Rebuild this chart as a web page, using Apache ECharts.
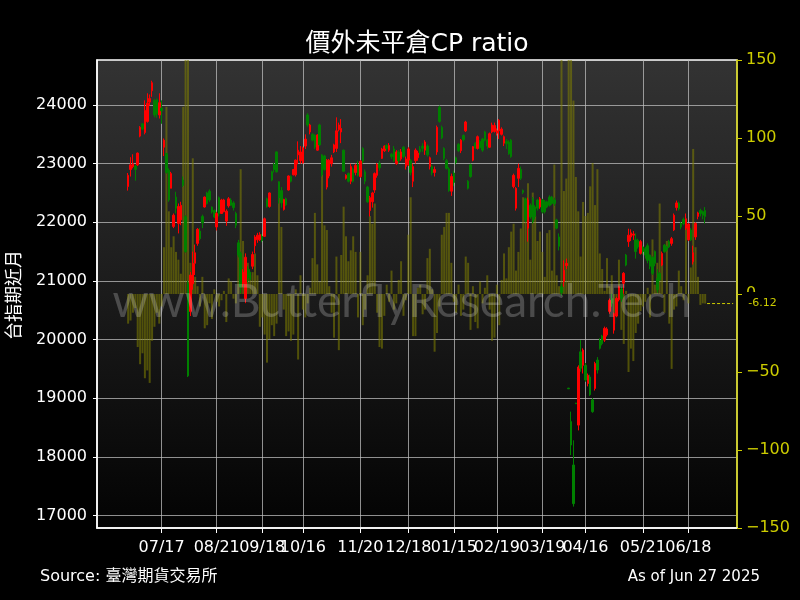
<!DOCTYPE html>
<html><head><meta charset="utf-8">
<script src="https://cdn.jsdelivr.net/npm/echarts@6/dist/echarts.min.js"></script>
<style>html,body{margin:0;background:#000}#c{width:800px;height:600px}</style>
</head><body><div id="c"></div>
<script>
// ---- data ----
const startDate = '2024-06-27';
const endDate = '2025-06-27';
const holidays = ['2024-07-24','2024-07-25','2024-09-17','2024-10-02','2024-10-03','2024-10-10','2024-10-31',
  '2025-01-01','2025-01-23','2025-01-24','2025-01-27','2025-01-28','2025-01-29','2025-01-30','2025-01-31',
  '2025-02-28','2025-04-03','2025-04-04','2025-05-01','2025-05-30'];
const tickDates = ['2024-07-17','2024-08-21','2024-09-18','2024-10-16','2024-11-20','2024-12-18',
  '2025-01-15','2025-02-19','2025-03-19','2025-04-16','2025-05-21','2025-06-18'];
const leftTicks = [17000,18000,19000,20000,21000,22000,23000,24000];

const opens = [22610,22900,22950,22960,22980,23470,23680,23530,23720,24050,
24245,24080,24090,23830,23950,23280,23175,22890,22580,21930,
22430,21980,22040,22720,22095,20950,20480,20950,21300,21640,
21850,22100,22260,22500,22530,22260,22200,21920,22420,22150,
22180,22020,22280,22380,22330,22150,21650,21470,20950,20700,
21200,21150,21250,21600,21700,21700,21760,21760,22400,22270,
22860,22980,23200,22690,22540,22220,22400,22550,22780,22810,
22810,23150,23050,23010,23300,23830,23540,23500,23480,23230,
23660,23150,23130,22600,22790,23000,23200,23260,23580,23540,
23230,22750,22830,22700,22900,22850,22980,22780,23260,22860,
22600,22200,22350,22550,22800,23000,23090,23220,23310,23230,
23160,23250,23000,23200,23080,23280,22950,22980,23050,22700,
23050,23100,23250,23300,23230,23300,22950,22950,22850,23200,
23960,23620,23260,23050,22910,22530,22840,23100,23330,23220,
23480,23560,22700,22980,23060,23350,23260,23380,23420,23540,
23400,23280,23540,23550,23520,23560,23500,23350,23380,23370,
23400,22610,22240,22750,22900,22540,22400,21900,22290,22400,
22260,22380,22260,22380,22350,22350,22430,22430,22380,22040,
21750,20900,20990,21260,19170,18600,17860,18915,18540,19790,
19560,19560,19250,19360,18970,19165,19650,19990,20060,19990,
20080,20480,20700,20160,20400,20680,20860,20960,21440,21670,
21750,21780,21700,21690,21470,21580,21550,21600,21440,21400,
21500,21040,21130,21270,21610,21580,21670,21640,21870,22250,
22320,21980,22050,21900,21700,21870,21330,21750,22100,22200,
22180,22200];
const closes = [22800,22980,23000,22900,23180,23620,23590,23910,24030,24110,
24380,23830,23850,24040,23900,23400,22850,22380,22830,22120,
22240,22270,22290,22630,21500,19380,21100,21300,21480,21880,
21720,21990,22430,22320,22380,22180,22090,22150,22150,22380,
22380,22190,22400,22290,22250,21950,21440,20900,21150,21400,
21050,21020,21450,21750,21780,21790,21690,22060,22270,22500,
22720,22900,22860,22420,22330,22390,22300,22790,22700,22900,
23060,23230,23200,23270,23420,23660,23660,23400,23280,23490,
23320,22810,22900,23060,23060,23100,23320,23560,23660,23600,
22870,22800,22700,22950,22700,22970,22800,23040,23040,22700,
22350,22420,22500,22830,22990,22930,23250,23300,23260,23310,
23120,23050,23200,23050,23200,23120,23080,23250,22850,22950,
23230,23180,23200,23260,23370,23150,23100,22840,22900,23620,
23720,23440,23090,22920,22540,22780,22680,23020,23220,23400,
23410,23710,22580,22780,23290,23270,23460,23270,23230,23400,
23300,23510,23660,23650,23560,23740,23590,23460,23340,23170,
23120,22800,22580,22920,22750,22510,22040,22380,22090,22010,
22100,22240,22400,22180,22180,22260,22290,22320,22320,21900,
21590,20800,21180,21300,19160,18200,17200,18905,19530,19510,
19820,19310,19390,19060,18770,19590,19480,19850,19930,20190,
20180,20670,20620,20440,20700,20900,20700,21130,21270,21780,
21820,21800,21500,21580,21670,21500,21440,21350,21250,21130,
21300,20850,21020,21470,21500,21530,21580,21720,22120,22330,
22230,21920,21980,22060,21970,21700,21480,21980,22160,22150,
22120,22100];
const lows = [22540,22780,22920,22710,22960,23450,23570,23500,23700,23990,
24140,23790,23780,23770,23680,23130,22830,22350,22580,21900,
22150,21810,21950,22600,21480,19360,20400,20850,21100,21600,
21690,21900,22250,22300,22350,22150,22070,21860,22100,22150,
22170,21940,22250,22280,22200,21900,21400,20790,20900,20620,
20980,20990,21200,21470,21650,21680,21660,21750,22250,22250,
22700,22850,22850,22320,22250,22200,22280,22540,22680,22800,
22780,22990,23000,23000,23250,23630,23500,23380,23250,23220,
23300,22780,22880,22560,22750,22950,23180,23200,23550,23350,
22860,22730,22680,22650,22680,22800,22780,22760,23000,22650,
22330,22100,22250,22500,22760,22880,23080,23200,23220,23200,
23080,23030,22980,23000,23050,23100,22900,22960,22800,22600,
23000,23050,23150,23200,23150,23120,22900,22800,22780,23150,
23700,23420,23060,22900,22520,22450,22620,22990,23200,23180,
23380,23540,22560,22760,23040,23250,23240,23250,23200,23380,
23250,23270,23520,23530,23480,23420,23480,23300,23250,23150,
23100,22580,22200,22600,22720,22480,22000,21670,22060,21980,
22050,22200,22230,22150,22150,22240,22270,22300,22280,21880,
21520,20750,20900,21200,19155,18030,17150,18900,18450,19450,
19420,19280,19200,19040,18750,19130,19420,19830,19900,19960,
20050,20440,20560,20100,20380,20650,20640,20780,21250,21580,
21680,21700,21380,21550,21450,21450,21380,21300,21200,21100,
21250,20800,21000,21250,21480,21500,21560,21600,21850,22200,
22200,21880,21950,21870,21680,21680,21280,21700,22050,22100,
22050,21980];
const highs = [22840,23110,23160,22980,23190,23640,23690,24080,24200,24180,
24415,24100,24110,24200,24080,23430,23180,22920,22860,22150,
22520,22320,22350,22780,22120,21000,21150,21500,21620,21900,
21900,22130,22440,22520,22560,22270,22220,22180,22440,22400,
22400,22220,22430,22410,22360,22180,21700,21500,21200,21470,
21250,21200,21500,21780,21820,21830,21800,22080,22420,22510,
22880,23010,23210,22700,22600,22400,22420,22800,22800,22910,
23070,23380,23300,23290,23500,23860,23680,23520,23500,23500,
23680,23160,23150,23080,23080,23150,23340,23790,23700,23760,
23240,22820,22850,23000,22930,23000,23050,23060,23280,22900,
22620,22450,22520,22850,23010,23050,23270,23310,23330,23350,
23180,23300,23230,23230,23250,23300,23120,23280,23080,23000,
23260,23220,23300,23350,23400,23330,23120,22980,22950,23650,
23990,23650,23280,23080,22940,22830,22880,23120,23350,23420,
23500,23730,22720,23000,23300,23370,23480,23400,23440,23560,
23420,23530,23700,23700,23600,23760,23620,23480,23420,23400,
23420,22830,22600,23000,22950,22560,22420,22420,22320,22430,
22290,22400,22430,22400,22380,22370,22460,22450,22420,22060,
21810,20950,21350,21380,19175,18770,18280,18920,19560,19990,
19850,19600,19420,19400,19000,19620,19700,20020,20080,20220,
20210,20700,20780,20460,20730,20920,20900,21150,21460,21890,
21880,21850,21810,21720,21700,21600,21580,21640,21450,21420,
21520,21200,21150,21500,21630,21600,21700,21750,22150,22370,
22350,22000,22080,22150,21990,21900,21600,22000,22180,22230,
22200,22260];
const cpRatio = [-19,-17,-12,-9,-34,-45,-38,-54,-49,-57,
-30,-21,-12,-19,-8,30,120,53,30,37,
27,22,13,120,175,170,20,87,11,5,
-8,11,-22,-20,-6,-16,3,-5,-8,-4,
2,-18,10,8,-3,-6,26,80,34,24,
20,12,14,26,12,-21,-15,-26,-44,-29,
-20,-27,-19,65,43,-10,-27,-24,-30,-26,
3,-42,12,-10,-15,-6,4,23,52,19,
8,88,44,41,5,-12,-28,24,-36,25,
56,37,21,28,37,27,-15,27,-20,-10,
12,50,45,58,-12,-34,-35,-14,6,-5,
15,-10,-6,9,21,-14,-4,38,62,-27,
-27,4,6,-13,-10,23,29,3,-37,-25,
-8,38,43,52,52,20,-5,-12,6,-14,
-10,24,20,-23,5,-18,-22,8,-6,4,
12,-10,-30,-28,6,-20,9,26,10,30,
40,45,15,27,42,62,53,71,22,65,
50,34,40,27,11,39,41,15,83,12,
5,160,66,74,180,175,124,75,53,24,
59,50,52,69,84,57,80,26,16,2,
23,5,12,-19,-10,22,-23,-32,2,-50,
-35,-43,-25,-19,-11,-8,-5,4,-15,35,
6,20,58,24,-12,34,-19,-48,-10,-8,
15,5,-4,45,-6,17,93,30,11,-7,
-6,-6.12];

// ---- trading-day calendar (categories) ----
const dates = [];
(function(){
  const d = new Date(startDate + 'T00:00:00Z');
  const end = new Date(endDate + 'T00:00:00Z');
  while (d <= end) {
    const wd = d.getUTCDay();
    const s = d.toISOString().slice(0, 10);
    if (wd !== 0 && wd !== 6 && holidays.indexOf(s) < 0) dates.push(s);
    d.setUTCDate(d.getUTCDate() + 1);
  }
})();
const tickIdx = tickDates.map(d => dates.indexOf(d));
const lastIdx = cpRatio.length - 1;
const xMin = -13, xMax = lastIdx + 13.3;
// an empty label at the axis end keeps ECharts from dropping the 05/21 label
const labelIdx = tickIdx.concat([xMax]);

const YEL = '#cccc00';
const FONT = '"DejaVu Sans",sans-serif';
const CJK = '"DejaVu Sans","Noto Sans CJK TC",sans-serif';
const GRID = 'rgba(190,190,190,0.75)';

const chart = echarts.init(document.getElementById('c'), null, {renderer: 'canvas'});
chart.setOption({
  backgroundColor: '#000',
  animation: false,
  grid: {
    left: 97, right: 63, top: 60, bottom: 72, show: true,
    borderColor: '#ffffff', borderWidth: 1.5,
    backgroundColor: {type: 'linear', x: 0, y: 0, x2: 0, y2: 1,
      colorStops: [{offset: 0, color: '#333333'}, {offset: 1, color: '#030303'}]}
  },
  xAxis: {
    type: 'value', min: xMin, max: xMax,
    axisLine: {show: true, onZero: false, lineStyle: {color: '#fff', width: 1.5}},
    axisTick: {show: true, length: 5, customValues: tickIdx, lineStyle: {color: '#fff'}},
    axisLabel: {customValues: labelIdx, showMinLabel: true, showMaxLabel: true, hideOverlap: false,
      color: '#fff', fontSize: 16, fontFamily: FONT, margin: 12,
      formatter: v => { const s = dates[Math.round(v)]; return (s && v === Math.round(v)) ? s.slice(5).replace('-', '/') : ''; }},
    splitLine: {show: true, lineStyle: {color: GRID, width: 1}}
  },
  yAxis: [{
    type: 'value', min: 16785, max: 24768, position: 'left',
    axisLine: {show: true, onZero: false, lineStyle: {color: '#fff', width: 1.5}},
    axisTick: {show: true, length: 4, customValues: leftTicks, lineStyle: {color: '#fff'}},
    axisLabel: {customValues: leftTicks, color: '#fff', fontSize: 16, fontFamily: FONT, margin: 10,
      formatter: v => String(v)},
    splitLine: {show: true, lineStyle: {color: GRID, width: 1}}
  }, {
    type: 'value', min: -150, max: 150, interval: 50, position: 'right',
    axisLine: {show: true, onZero: false, lineStyle: {color: YEL, width: 1.5}},
    axisTick: {show: true, length: 5, lineStyle: {color: YEL}},
    axisLabel: {color: YEL, fontSize: 16, fontFamily: FONT, margin: 9,
      formatter: v => String(v).replace('-', '\u2212')},
    splitLine: {show: false}
  }],
  series: [{
    type: 'bar', yAxisIndex: 1, barWidth: 2, z: 1,
    itemStyle: {color: 'rgba(128,128,0,0.56)'},
    data: cpRatio.map((v, i) => [i, v])
  }, {
    type: 'candlestick', yAxisIndex: 0, barWidth: 2, z: 3,
    encode: {x: 0, y: [1, 2, 3, 4]},
    itemStyle: {color: '#ff0000', color0: '#008000', borderColor: '#ff0000', borderColor0: '#008000', borderWidth: 1},
    data: opens.map((o, i) => [i, o, closes[i], lows[i], highs[i]])
  }, {
    type: 'line', yAxisIndex: 1, z: 5, clip: false, symbol: 'none', silent: true,
    lineStyle: {color: YEL, width: 1, type: [3, 2]},
    data: [[lastIdx + 0.8, cpRatio[lastIdx]], [xMax - 1.6, cpRatio[lastIdx]]],
    endLabel: {show: true, distance: 13, formatter: () => cpRatio[lastIdx].toFixed(2),
      color: YEL, fontSize: 11, fontFamily: FONT, backgroundColor: '#000', padding: [9, 2, 3, 2]}
  }],
  graphic: [
    {type: 'text', x: 417, y: 44, z: 10, style: {text: '價外未平倉CP ratio', fill: '#fff',
      font: '25px ' + CJK, align: 'center', verticalAlign: 'middle'}},
    {type: 'text', x: 15, y: 295, rotation: Math.PI / 2, z: 10, style: {text: '台指期近月', fill: '#fff',
      font: '18px ' + CJK, align: 'center', verticalAlign: 'middle'}},
    {type: 'text', x: 40, y: 577, z: 10, style: {text: 'Source: 臺灣期貨交易所', fill: '#fff',
      font: '16px ' + CJK, align: 'left', verticalAlign: 'middle'}},
    {type: 'text', x: 760, y: 577, z: 10, style: {text: 'As of Jun 27 2025', fill: '#fff',
      font: '15px ' + FONT, align: 'right', verticalAlign: 'middle'}},
    {type: 'text', x: 402, y: 302, z: 100, silent: true, style: {text: 'www.ButterflyResearch.Tech',
      fill: 'rgba(255,255,255,0.22)', font: '46px Lato, sans-serif', align: 'center', verticalAlign: 'middle'}}
  ]
});
</script>
</body></html>
